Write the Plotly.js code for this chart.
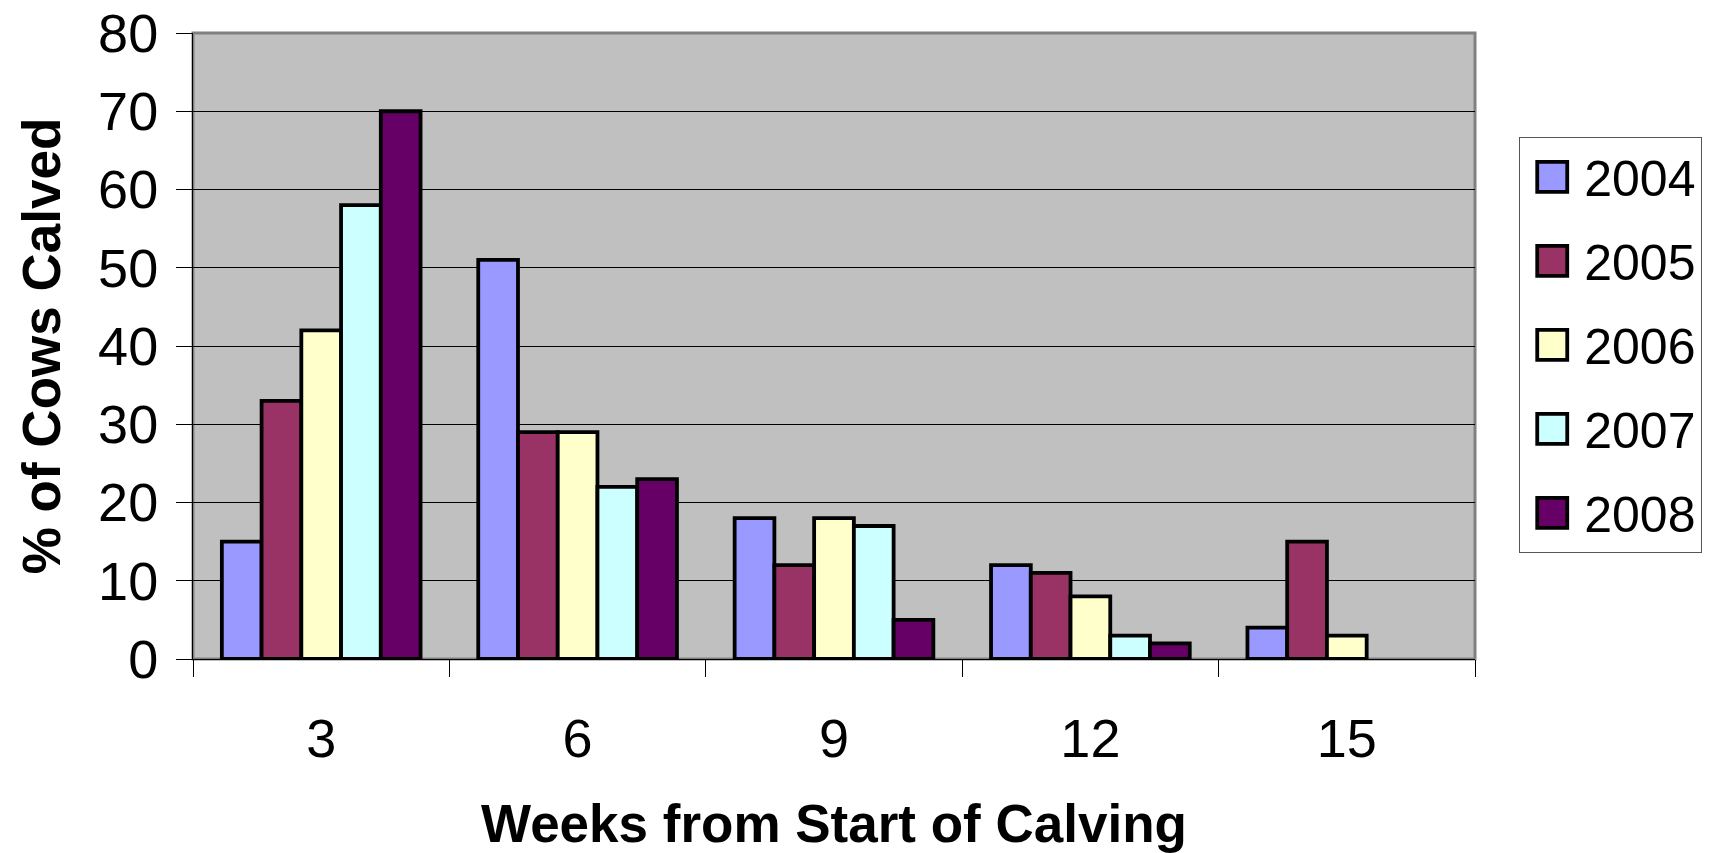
<!DOCTYPE html>
<html>
<head>
<meta charset="utf-8">
<script src="https://cdn.plot.ly/plotly-3.0.1.min.js"></script>
<style>
html,body{margin:0;padding:0;background:#fff;}
#chart{width:1716px;height:853px;}
</style>
</head>
<body>
<div id="chart"></div>
<script>
// Data
var weeks = ['3', '6', '9', '12', '15'];
var years = ['2004', '2005', '2006', '2007', '2008'];
var pct2004 = [15, 51, 18, 12, 4];
var pct2005 = [33, 29, 12, 11, 15];
var pct2006 = [42, 29, 18, 8, 3];
var pct2007 = [58, 22, 17, 3, null];
var pct2008 = [70, 23, 5, 2, null];
var yTickVals = [0, 10, 20, 30, 40, 50, 60, 70, 80];

var seriesValues = [pct2004, pct2005, pct2006, pct2007, pct2008];
var colors = ['#9999FF', '#993366', '#FFFFCC', '#CCFFFF', '#660066'];

var FONT = 'Liberation Sans, Arial, sans-serif';

var traces = years.map(function (yr, i) {
  return {
    type: 'bar',
    name: yr,
    x: weeks,
    y: seriesValues[i],
    legendgroup: yr,
    marker: { color: colors[i], line: { color: '#000', width: 3.8 } },
    hoverinfo: 'x+y+name'
  };
});

var layout = {
  width: 1716,
  height: 853,
  margin: { l: 193, r: 241, t: 33, b: 194, autoexpand: false },
  paper_bgcolor: '#ffffff',
  plot_bgcolor: '#C0C0C0',
  barmode: 'group',
  bargap: 0.225,
  bargroupgap: 0,
  font: { family: FONT, color: '#000', size: 48 },
  showlegend: true,
  legend: {
    x: 1.0345, xanchor: 'left',
    y: 0.834, yanchor: 'top',
    bgcolor: '#ffffff',
    bordercolor: '#555',
    borderwidth: 1,
    font: { family: FONT, size: 50, color: '#000' },
    traceorder: 'grouped',
    tracegroupgap: 16,
    itemwidth: 54
  },
  xaxis: {
    type: 'category',
    tickson: 'boundaries',
    ticks: 'outside',
    ticklen: 17,
    tickwidth: 1,
    tickcolor: '#000',
    showline: true,
    linecolor: '#000',
    linewidth: 1,
    showgrid: false,
    zeroline: false,
    automargin: false,
    ticklabelstandoff: 32,
    tickfont: { family: FONT, size: 54, color: '#000' },
    title: {
      text: 'Weeks from Start of Calving',
      font: { family: FONT, size: 53, color: '#000', weight: 'bold' },
      standoff: 40
    }
  },
  yaxis: {
    range: [0, 80],
    tickvals: yTickVals,
    ticks: 'outside',
    ticklen: 16,
    tickwidth: 1,
    tickcolor: '#000',
    showline: true,
    linecolor: '#000',
    linewidth: 1,
    showgrid: true,
    gridcolor: '#000',
    gridwidth: 1,
    zeroline: false,
    automargin: false,
    ticklabelstandoff: 7,
    tickfont: { family: FONT, size: 54, color: '#000' },
    title: {
      text: '% of Cows Calved',
      font: { family: FONT, size: 53, color: '#000', weight: 'bold' },
      standoff: 20
    }
  },
  shapes: [{
    type: 'rect', xref: 'paper', yref: 'paper',
    x0: 0, x1: 1, y0: 0, y1: 1,
    line: { color: '#808080', width: 3 },
    fillcolor: 'rgba(0,0,0,0)',
    layer: 'below'
  }]
};

Plotly.newPlot('chart', traces, layout, { displayModeBar: false, responsive: false }).then(function (gd) {
  var paths = gd.querySelectorAll('.legend .legendpoints path');
  paths.forEach(function (p) {
    p.setAttribute('d', 'M15,15H-15V-15H15Z');
  });
});
</script>
</body>
</html>
